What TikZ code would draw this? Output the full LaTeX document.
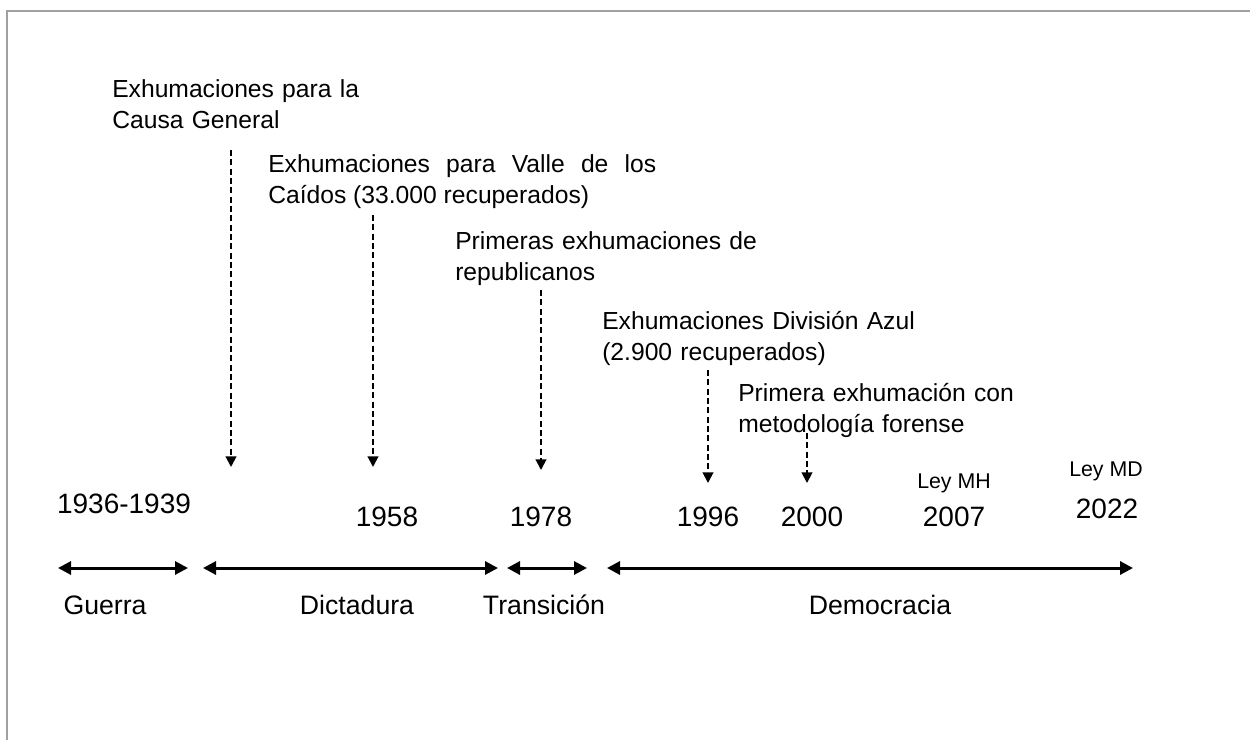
\documentclass[tikz,border=0pt]{standalone}
\usepackage{fontspec}
\setmainfont{Liberation Sans}
\usetikzlibrary{arrows.meta, positioning}
\definecolor{framegray}{RGB}{160,160,160}
\tikzset{%
  % text of an event, anchored at the baseline of its first line
  evt/.style={anchor=base west, inner sep=0pt, text width=300pt, align=left, font=\fontsize{18.5}{23.5}\selectfont},
  % years and laws on the time line
  yr/.style={anchor=base, inner sep=0pt, font=\fontsize{21}{25}\selectfont},
  law/.style={anchor=base, inner sep=0pt, font=\fontsize{16}{19}\selectfont},
  % names of the periods
  period/.style={anchor=base, inner sep=0pt, font=\fontsize{20}{24}\selectfont},
  % dashed arrow from an event down to its year
  evarrow/.style={-{Triangle[length=8pt, width=8pt]}, line width=1.5pt, dash pattern=on 4.5pt off 2.5pt},
  % double arrow that spans a period
  span/.style={{Triangle[length=9.75pt, width=9.75pt]}-{Triangle[length=9.75pt, width=9.75pt]}, line width=2.25pt},
}
\begin{document}
\begin{tikzpicture}[x=0.75pt, y=-0.75pt]
  \useasboundingbox (0,0) rectangle (1250,740);
  \draw[framegray, line width=1.5pt] (7,740) -- (7,11) -- (1250,11);

  % events
  \node[evt] (ev1) at (112,97) {Exhumaciones para la\\Causa General};
  \node[evt, text width=291pt, align=justify] (ev2) at (268,172) {Exhumaciones para Valle de los Caídos (33.000 recuperados)};
  \node[evt] (ev3) at (455,249) {Primeras exhumaciones de\\republicanos};
  \node[evt] (ev4) at (602,329) {Exhumaciones División Azul\\(2.900 recuperados)};
  \node[evt] (ev5) at (738,401) {Primera exhumación con\\metodología forense};

  % years
  \node[yr] (y1) at (124,513) {1936-1939};
  \node[yr] (y2) at (387,526) {1958};
  \node[yr] (y3) at (541,526) {1978};
  \node[yr] (y4) at (708,526) {1996};
  \node[yr] (y5) at (812,526) {2000};
  \node[yr] (y6) at (954,526) {2007};
  \node[yr] (y7) at (1107,518) {2022};
  \node[law] (lmh) at (954,488) {Ley MH};
  \node[law] (lmd) at (1106,476) {Ley MD};

  % dashed arrows
  \coordinate (a1) at (231,150); \coordinate (b1) at (231,467);
  \coordinate (a2) at (373,215); \coordinate (b2) at (373,467);
  \coordinate (a3) at (541,290); \coordinate (b3) at (541,470);
  \coordinate (a4) at (708,370); \coordinate (b4) at (708,483);
  \coordinate (a5) at (807,433); \coordinate (b5) at (807,483);
  \foreach \i in {1,...,5} {
    \draw[evarrow] (a\i) -- (b\i);
  }

  % periods
  \coordinate (g0) at (58,568);  \coordinate (g1) at (188,568);
  \coordinate (d0) at (203,568); \coordinate (d1) at (498,568);
  \coordinate (t0) at (507,568); \coordinate (t1) at (587,568);
  \coordinate (m0) at (607,568); \coordinate (m1) at (1133,568);
  \draw[span] (g0) -- (g1);
  \draw[span] (d0) -- (d1);
  \draw[span] (t0) -- (t1);
  \draw[span] (m0) -- (m1);
  \node[period] (guerra) at (105,614) {Guerra};
  \node[period] (dict) at (357,614) {Dictadura};
  \node[period] (trans) at (544,614) {Transición};
  \node[period] (demo) at (880,614) {Democracia};
\end{tikzpicture}
\end{document}
